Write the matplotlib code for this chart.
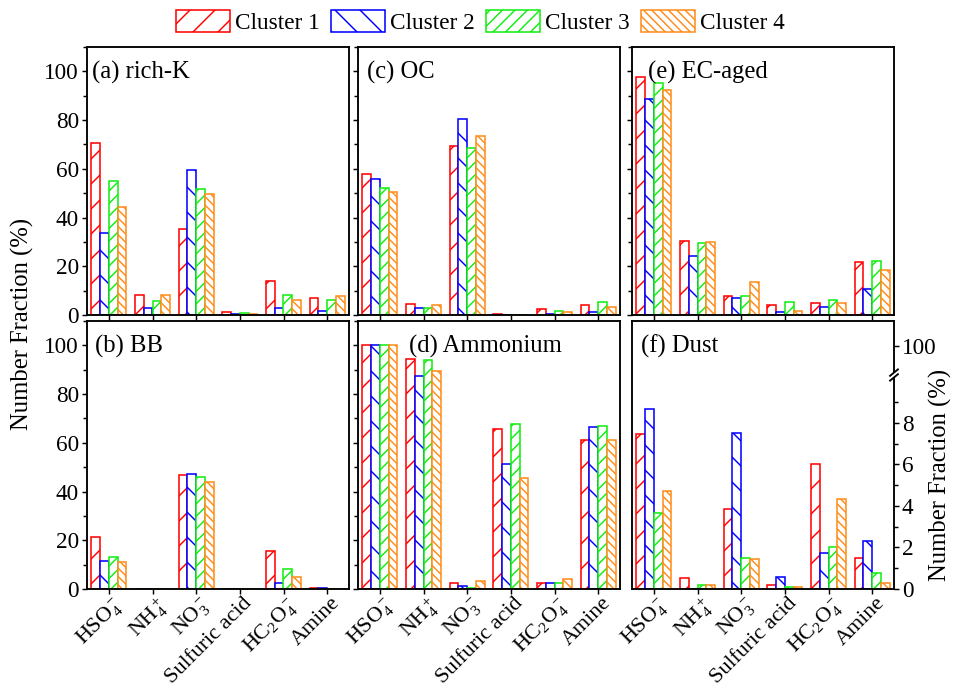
import numpy as np
import matplotlib
matplotlib.use('Agg')
import matplotlib.pyplot as plt
import matplotlib.transforms as mtransforms
from matplotlib.ticker import MultipleLocator, FixedLocator

plt.rcParams['font.family'] = ['Liberation Serif', 'DejaVu Serif']
plt.rcParams['mathtext.fontset'] = 'custom'
plt.rcParams['mathtext.rm'] = 'Liberation Serif'
plt.rcParams['mathtext.it'] = 'Liberation Serif:italic'
plt.rcParams['hatch.linewidth'] = 0.7

species = [r'HSO$_4^-$', r'NH$_4^+$', r'NO$_3^-$', 'Sulfuric acid', r'HC$_2$O$_4^-$', 'Amine']
clusters = ['Cluster 1', 'Cluster 2', 'Cluster 3', 'Cluster 4']
colors = ['#FF0000', '#0000FF', '#11EE11', '#FF8C1A']
hatches = ['//', '\\\\', '////', '\\' * 6]

# number fraction (%) per cluster, order follows `species`
rich_k = [[70.5, 8.2, 35.1, 1.3, 13.9, 7.0],
          [33.5, 2.7, 59.6, 0.3, 2.7, 1.8],
          [54.8, 5.7, 51.9, 0.8, 8.4, 6.1],
          [44.3, 8.2, 49.5, 0.5, 6.1, 7.8]]
bb = [[21.4, 0.0, 46.9, 0.0, 15.6, 0.4],
      [11.4, 0.0, 47.1, 0.0, 2.3, 0.3],
      [13.2, 0.0, 46.1, 0.0, 8.4, 0.2],
      [11.1, 0.0, 44.1, 0.0, 5.1, 0.1]]
oc = [[57.8, 4.6, 69.2, 0.4, 2.3, 4.2],
      [56.0, 2.8, 80.6, 0.2, 0.5, 1.2],
      [52.0, 2.8, 68.5, 0.2, 1.8, 5.5],
      [50.3, 3.9, 73.5, 0.2, 1.2, 3.2]]
ammonium = [[100.0, 94.5, 2.6, 65.6, 2.3, 61.1],
            [100.0, 87.3, 1.4, 51.2, 2.3, 66.3],
            [100.0, 93.9, 0.6, 67.6, 2.3, 67.0],
            [100.0, 89.6, 3.4, 45.4, 4.2, 61.2]]
ec_aged = [[97.5, 30.3, 7.7, 4.2, 4.8, 21.7],
           [88.6, 24.1, 7.0, 1.4, 3.2, 10.5],
           [95.1, 29.6, 7.7, 5.3, 6.2, 22.1],
           [92.4, 30.1, 13.4, 1.8, 5.0, 18.5]]
dust = [[7.44, 0.53, 3.87, 0.19, 6.00, 1.49],
        [8.67, 0.00, 7.52, 0.56, 1.73, 2.32],
        [3.68, 0.19, 1.47, 0.08, 2.00, 0.75],
        [4.72, 0.21, 1.44, 0.08, 4.32, 0.29]]

panels = [('(a) rich-K', rich_k), ('(c) OC', oc), ('(e) EC-aged', ec_aged),
          ('(b) BB', bb), ('(d) Ammonium', ammonium), ('(f) Dust', dust)]
title_x = [0.02, 0.035, 0.06, 0.03, 0.195, 0.035]

W, H = 957, 690
fig = plt.figure(figsize=(W / 150, H / 150), dpi=150)

col_left = [87, 358, 632]
row_bottom = [315, 589]
aw, ah = 262, 268

fs = 11.2
x = np.arange(len(species))
width = 0.2
offsets = [-0.3, -0.1, 0.1, 0.3]

# broken right axis for the dust panel
brk = 10.3
k = 1.4 / (100 - brk)
fwd = lambda v: np.where(v <= brk, v, brk + (v - brk) * k)
inv = lambda u: np.where(u <= brk, u, brk + (u - brk) / k)
f_top = brk + (12.9 - brk) / k

# nudge rotated category labels slightly up/right
lab_shift = mtransforms.ScaledTranslation(3 / 150, 3 / 150, fig.dpi_scale_trans)

for i, (title, data) in enumerate(panels):
    r, c = divmod(i, 3)
    ax = fig.add_axes([col_left[c] / W, 1 - row_bottom[r] / H, aw / W, ah / H])
    bars = []
    for j in range(4):
        b = ax.bar(x + offsets[j], data[j], width, facecolor='white',
                   edgecolor=colors[j], hatch=hatches[j], linewidth=0.75)
        bars.append(b)
    if i == 0:
        handles = bars
    ax.set_xlim(-0.5, 5.5)
    for s in ax.spines.values():
        s.set_linewidth(0.9)
    ax.set_xticks(x)
    ax.tick_params(axis='both', which='both', direction='out', width=0.7,
                   labelsize=fs, pad=1.5)
    ax.tick_params(axis='both', which='major', length=2.3)
    ax.tick_params(axis='y', which='minor', length=1.8)
    if r == 1:
        ax.set_xticklabels(species, rotation=45, ha='right', va='top',
                           rotation_mode='anchor', fontsize=10.6)
        for lab in ax.get_xticklabels():
            lab.set_transform(lab.get_transform() + lab_shift)
    else:
        ax.set_xticklabels([])
    if i == 5:
        ax.set_yscale('function', functions=(fwd, inv))
        ax.set_ylim(0, f_top)
        ax.yaxis.tick_right()
        ax.yaxis.set_major_locator(FixedLocator([0, 2, 4, 6, 8, 100]))
        ax.yaxis.set_minor_locator(FixedLocator([1, 3, 5, 7, 9]))
        ax.set_yticklabels(['0', '2', '4', '6', '8', '100'])
        yb = 10.3 / 12.9
        ax.add_patch(plt.Rectangle((0.99, yb - 0.008), 0.02, 0.016,
                                   transform=ax.transAxes, facecolor='white',
                                   edgecolor='none', clip_on=False, zorder=5))
        for dy in (-0.009, 0.009):
            ax.plot([0.985, 1.015], [yb + dy - 0.012, yb + dy + 0.012],
                    transform=ax.transAxes, color='black', lw=0.9,
                    clip_on=False, zorder=6)
    else:
        ax.set_ylim(0, 110)
        ax.yaxis.set_major_locator(MultipleLocator(20))
        ax.yaxis.set_minor_locator(MultipleLocator(10))
        if c > 0:
            ax.set_yticklabels([])
    ax.text(title_x[i], 0.905, title, transform=ax.transAxes, fontsize=11.8,
            va='center', ha='left')

fig.text(0.023, 0.531, 'Number Fraction (%)', rotation=90, va='center',
         ha='center', fontsize=11.8)
fig.text(0.983, 0.312, 'Number Fraction (%)', rotation=90, va='center',
         ha='center', fontsize=11.8)

fig.legend(handles, clusters, ncol=4, loc='upper center',
           bbox_to_anchor=(0.502, 0.995), frameon=False, fontsize=11.2,
           handlelength=2.3, handleheight=1.07, handletextpad=0.22,
           columnspacing=0.5, borderaxespad=0.0, borderpad=0.3)

fig.savefig('out.png', dpi=150)
